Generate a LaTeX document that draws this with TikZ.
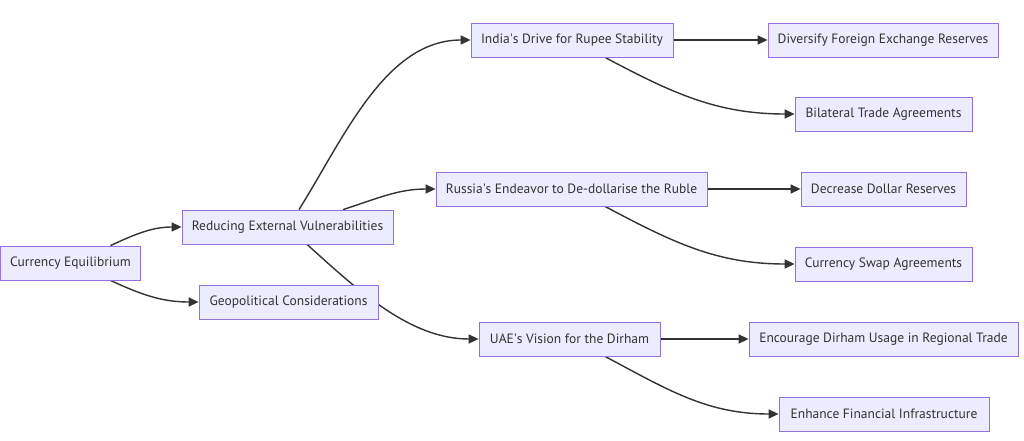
\documentclass[tikz,border=0pt]{standalone}
\usepackage{fontspec}
\setmainfont{PT Sans}
\usetikzlibrary{arrows.meta,backgrounds}
\definecolor{boxfill}{HTML}{ECECFF}
\definecolor{boxline}{HTML}{9370DB}
\definecolor{linkcol}{HTML}{333333}

\begin{document}
\begin{tikzpicture}[x=1pt,y=1pt,>={Triangle[length=10pt,width=9pt]}]
        \tikzstyle{box}=[rectangle,draw=boxline,fill=boxfill,line width=0.8pt,minimum height=34pt,inner sep=0pt,text=linkcol,font=\fontsize{13.5}{15}\selectfont]
        \tikzstyle{link}=[->,draw=linkcol,line width=1.4pt]
        \useasboundingbox (0,0) rectangle (1024,440);

        \node [box,minimum width=140pt] (ce) at (70.5,177) {Currency Equilibrium}; %root
        \node [box,minimum width=211pt] (re) at (287.5,213) {Reducing External Vulnerabilities};
        \node [box,minimum width=179pt] (gc) at (288.5,138) {Geopolitical Considerations};

        \node [box,minimum width=202pt] (india) at (572,400) {India\textquotesingle s Drive for Rupee Stability};
        \node [box,minimum width=271pt] (russia) at (571.5,251) {Russia\textquotesingle s Endeavor to De-dollarise the Ruble};
        \node [box,minimum width=181pt] (uae) at (569.5,101) {UAE\textquotesingle s Vision for the Dirham};

        \node [box,minimum width=230pt] (divers) at (883,400) {Diversify Foreign Exchange Reserves};
        \node [box,minimum width=177pt] (bilat) at (883.5,326) {Bilateral Trade Agreements};
        \node [box,minimum width=165pt] (decr) at (883.5,251) {Decrease Dollar Reserves};
        \node [box,minimum width=177pt] (swap) at (883.5,176) {Currency Swap Agreements};
        \node [box,minimum width=269pt] (encour) at (883.5,101) {Encourage Dirham Usage in Regional Trade};
        \node [box,minimum width=210pt] (enhance) at (884,26) {Enhance Financial Infrastructure};

        \begin{pgfonlayer}{background}
        % root to second level
        \draw [link] ([xshift=40pt]ce.north) to[out=25,in=180] (re.west);
        \draw [link] ([xshift=40pt]ce.south) to[out=-25,in=180] (gc.west);
        % second level to countries
        \draw [link] ([xshift=11.5pt]re.north) to[out=58,in=180,looseness=0.9] (india.west);
        \draw [link] ([xshift=55.5pt]re.north) to[out=18,in=180] (russia.west);
        \draw [link] ([xshift=19.5pt]re.south) to[out=-42,in=180,looseness=0.9] (uae.west);
        % countries to measures
        \draw [link] (india.east) -- (divers.west);
        \draw [link] ([xshift=33pt]india.south) to[out=-28,in=180] (bilat.west);
        \draw [link] (russia.east) -- (decr.west);
        \draw [link] ([xshift=33.5pt]russia.south) to[out=-28,in=180] (swap.west);
        \draw [link] (uae.east) -- (encour.west);
        \draw [link] ([xshift=35.5pt]uae.south) to[out=-28,in=180] (enhance.west);
        \end{pgfonlayer}
    \end{tikzpicture}
\end{document}
